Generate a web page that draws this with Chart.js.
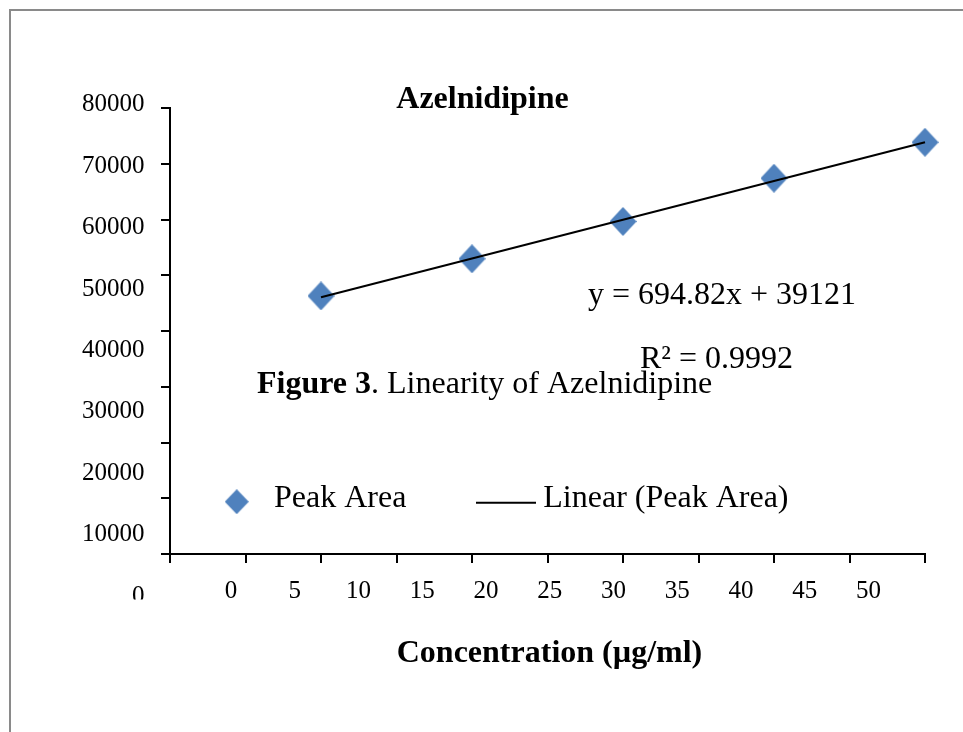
<!DOCTYPE html>
<html><head><meta charset="utf-8">
<script src="https://cdn.jsdelivr.net/npm/chart.js@4.4.0/dist/chart.umd.min.js"></script>
<style>html,body{margin:0;padding:0;background:#fff;overflow:hidden}canvas{display:block}</style>
</head><body>
<canvas id="c" width="963" height="732"></canvas>
<script>
// ---- data ----
const concentrations = [10, 20, 30, 40, 50];
const peakAreas = [46300, 52950, 59650, 67400, 73850];
const trendSlope = 694.82;
const trendIntercept = 39121;
const xTickValues = [0, 5, 10, 15, 20, 25, 30, 35, 40, 45, 50];
const yTickValues = [0, 10000, 20000, 30000, 40000, 50000, 60000, 70000, 80000];
const chartTitle = 'Azelnidipine';
const xAxisTitle = 'Concentration (µg/ml)';
const equationText = 'y = 694.82x + 39121';
const r2Text = 'R² = 0.9992';
const captionBold = 'Figure 3';
const captionRest = '. Linearity of Azelnidipine';
const seriesName = 'Peak Area';
const trendName = 'Linear (Peak Area)';

const BLUE = '#4F81BD';
const FONT = '"Liberation Serif", "Times New Roman", serif';

function diamond(w, h, color) {
  const c = document.createElement('canvas');
  c.width = w; c.height = h;
  const g = c.getContext('2d');
  g.fillStyle = color;
  g.beginPath();
  g.moveTo(w / 2, 0); g.lineTo(w, h / 2); g.lineTo(w / 2, h); g.lineTo(0, h / 2);
  g.closePath(); g.fill();
  return c;
}
const markerImg = diamond(27, 29, BLUE);
const legendImg = diamond(24, 25, BLUE);

const scatterData = concentrations.map((x, i) => ({ x: x, y: peakAreas[i] }));
const trendEnds = [concentrations[0], concentrations[concentrations.length - 1]];
const trendData = trendEnds.map(x => ({ x: x, y: trendSlope * x + trendIntercept }));

const decorPlugin = {
  id: 'decor',
  afterDraw(chart) {
    const ctx = chart.ctx;
    const xs = chart.scales.x, ys = chart.scales.y;
    ctx.save();
    // page frame
    ctx.strokeStyle = '#8a8a8a';
    ctx.lineWidth = 2;
    ctx.beginPath();
    ctx.moveTo(10, 732); ctx.lineTo(10, 10); ctx.lineTo(963, 10);
    ctx.stroke();

    ctx.fillStyle = '#000';
    ctx.textBaseline = 'alphabetic';

    // tick labels (offset from tick marks as in the original), clipped at the bottom
    ctx.save();
    ctx.beginPath(); ctx.rect(0, 0, 963, 599.5); ctx.clip();
    ctx.font = '25px ' + FONT;
    ctx.textAlign = 'center';
    xTickValues.forEach(v => {
      const p = xs.getPixelForValue(v);
      const lx = xs.left + 61 + (p - xs.left) * 0.8444;
      ctx.fillText(String(v), lx, 598.3);
    });
    ctx.textAlign = 'right';
    yTickValues.forEach(v => {
      const p = ys.getPixelForValue(v);
      const ly = ys.top - 5 + (p - ys.top) * 1.102;
      ctx.fillText(String(v), 144.5, ly + 8.3);
    });
    ctx.restore();

    // title
    ctx.font = 'bold 32px ' + FONT;
    ctx.textAlign = 'center';
    ctx.fillText(chartTitle, 482.5, 107.5);
    // x-axis title
    ctx.fillText(xAxisTitle, 549.5, 661.7);

    // equation + R²
    ctx.textAlign = 'left';
    ctx.font = '32px ' + FONT;
    ctx.fillText(equationText, 588, 303.5);
    ctx.fillText(r2Text, 640, 368.3);

    // caption
    ctx.font = 'bold 32px ' + FONT;
    ctx.fillText(captionBold, 257, 393);
    const bw = ctx.measureText(captionBold).width;
    ctx.font = '32px ' + FONT;
    ctx.fillText(captionRest, 257 + bw, 393);

    // legend
    const ds = chart.data.datasets;
    ctx.drawImage(legendImg, 236.7 - 12, 501.7 - 12.5);
    ctx.fillText(ds[1].label, 274, 506.7);
    ctx.strokeStyle = '#000';
    ctx.lineWidth = 2;
    ctx.beginPath(); ctx.moveTo(476, 502.7); ctx.lineTo(536, 502.7); ctx.stroke();
    ctx.fillText(ds[0].label, 543.3, 506.7);
    ctx.restore();
  }
};

new Chart(document.getElementById('c'), {
  type: 'scatter',
  data: {
    datasets: [
      {
        label: trendName,
        data: trendData,
        showLine: true,
        borderColor: '#000',
        borderWidth: 2,
        pointRadius: 0,
        pointHoverRadius: 0,
        fill: false,
        clip: false,
        order: 0
      },
      {
        label: seriesName,
        data: scatterData,
        pointStyle: markerImg,
        pointRadius: 13,
        backgroundColor: BLUE,
        borderColor: BLUE,
        clip: false,
        order: 1
      }
    ]
  },
  options: {
    responsive: false,
    animation: false,
    devicePixelRatio: 1,
    layout: { padding: { left: 161, top: 108, right: 38, bottom: 169 } },
    plugins: { legend: { display: false }, title: { display: false }, tooltip: { enabled: false } },
    scales: {
      x: {
        type: 'linear', min: 0, max: 50,
        ticks: { stepSize: 5, display: false },
        grid: { drawOnChartArea: false, drawTicks: true, tickLength: 9, color: '#000', lineWidth: 2 },
        border: { display: true, color: '#000', width: 2 }
      },
      y: {
        type: 'linear', min: 0, max: 80000,
        ticks: { stepSize: 10000, display: false },
        grid: { drawOnChartArea: false, drawTicks: true, tickLength: 9, color: '#000', lineWidth: 2 },
        border: { display: true, color: '#000', width: 2 }
      }
    }
  },
  plugins: [decorPlugin]
});
</script>
</body></html>
